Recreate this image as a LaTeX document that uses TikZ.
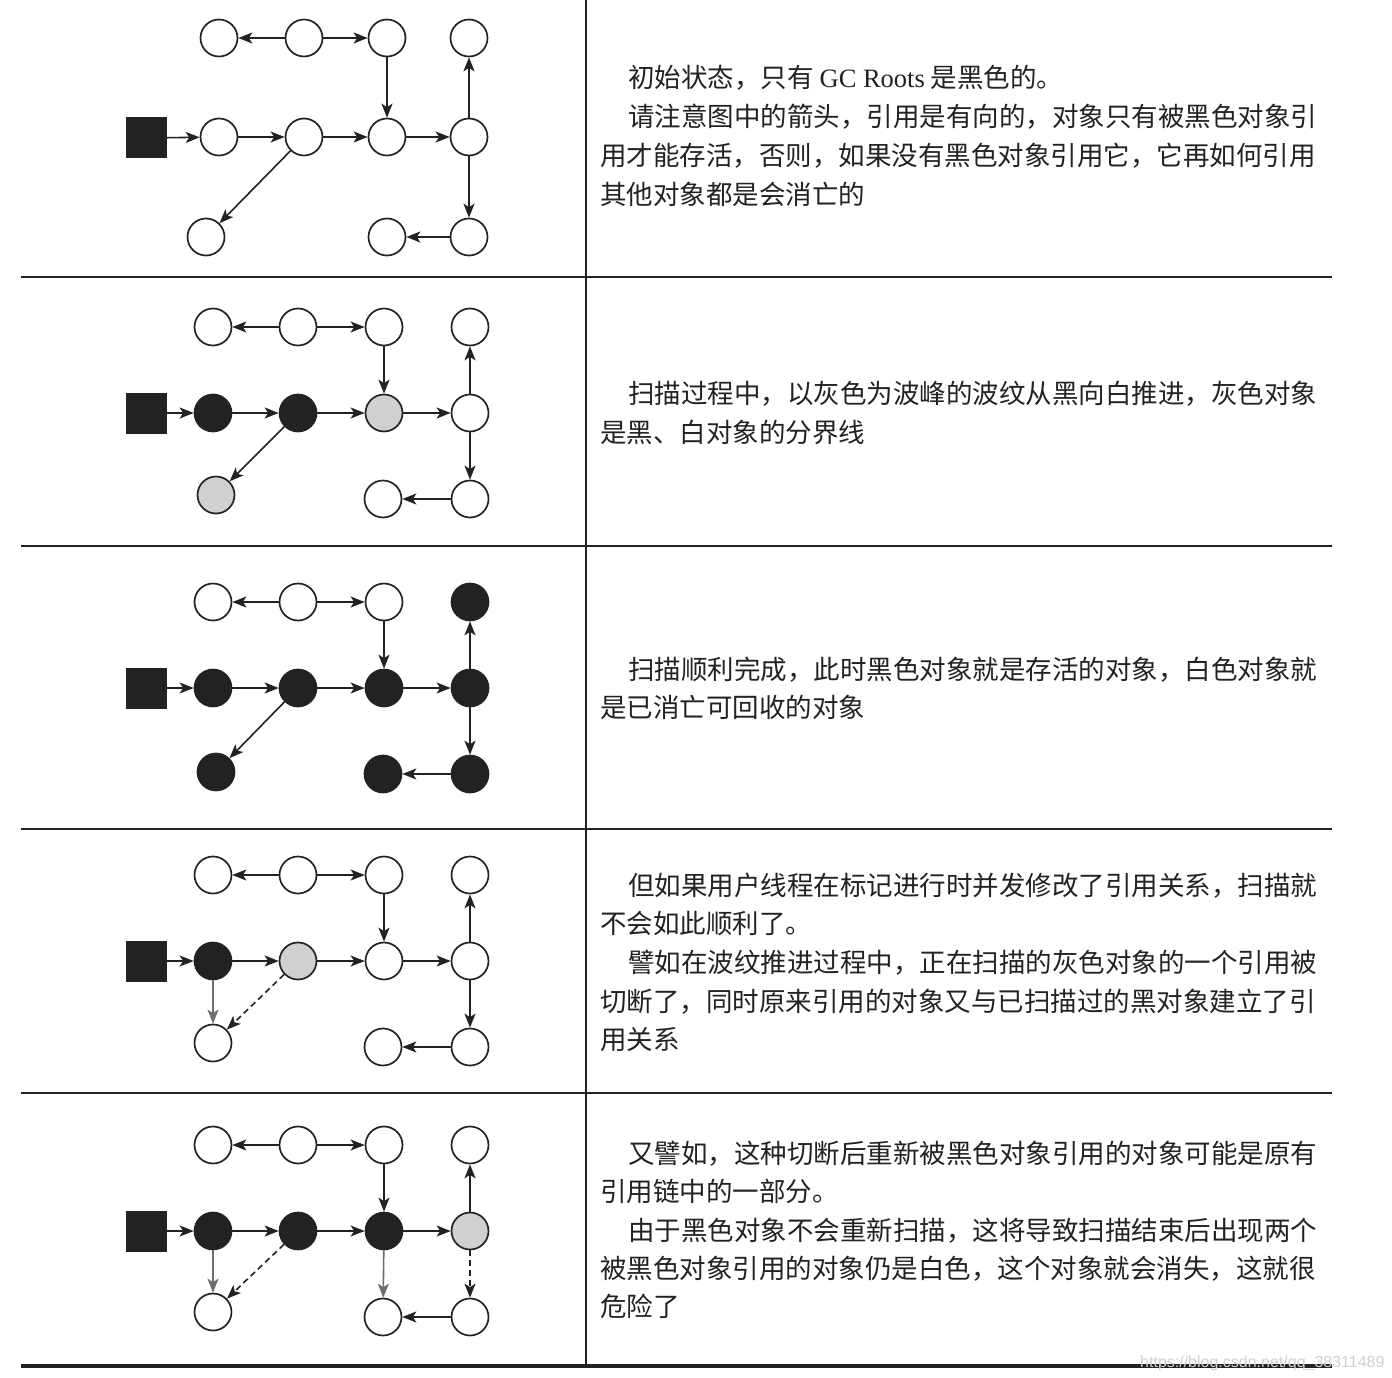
\documentclass[tikz,border=0pt]{standalone}
\usepackage{fontspec}
\usetikzlibrary{arrows.meta}
\newfontfamily\cjk{Noto Sans CJK SC}
\newfontfamily\latserif{Liberation Serif}
\newfontfamily\marksans{Liberation Sans}
\XeTeXlinebreaklocale "zh"
\XeTeXlinebreakskip=0pt plus 2pt

\definecolor{ink}{HTML}{222222}
\definecolor{greyobj}{HTML}{D0D0D0}
\definecolor{refgrey}{HTML}{6E6E6E}

\tikzset{
  obj/.style={circle,draw=ink,line width=1.7pt,minimum size=37pt,inner sep=0pt},
  wn/.style={obj,fill=white},
  bn/.style={obj,fill=ink},
  gn/.style={obj,fill=greyobj},
  root/.style={rectangle,fill=ink,minimum size=41pt,inner sep=0pt},
  ref/.style={draw=ink,line width=1.6pt,-{Stealth[length=14pt,width=11pt,inset=3.5pt]}},
  newref/.style={ref,draw=refgrey},
  cutref/.style={ref,dash pattern=on 6pt off 4pt},
  txt/.style={anchor=base west,inner sep=0pt,text=ink,font=\cjk\fontsize{26.5}{38}\selectfont},
  rule/.style={draw=ink,line width=2pt},
}

\begin{document}
\begin{tikzpicture}[x=1pt,y=-1pt]
\useasboundingbox[fill=white] (0,0) rectangle (1392,1378);

% table
\draw[rule] (586,0) -- (586,1366);
\foreach \y in {277,546,829,1093}
  \draw[rule] (21,\y) -- (1332,\y);
\draw[rule,line width=3.5pt] (21,1366) -- (1332,1366);

% panel a: initial state
\node[root] (a-r) at (146,138) {};
\foreach \n/\x in {1/219,2/304,3/387,4/469}{
  \node[wn] (a-t\n) at (\x,38) {};
  \node[wn] (a-m\n) at (\x,137) {};
}
\node[wn] (a-b1) at (206,237) {};
\node[wn] (a-b2) at (387,237) {};
\node[wn] (a-b3) at (469,237) {};

% panel b: scanning
\node[root] (b-r) at (146,413) {};
\foreach \n/\x/\s in {1/213/wn,2/298/wn,3/384/wn,4/470/wn}
  \node[\s] (b-t\n) at (\x,327) {};
\foreach \n/\x/\s in {1/213/bn,2/298/bn,3/384/gn,4/470/wn}
  \node[\s] (b-m\n) at (\x,413) {};
\node[gn] (b-b1) at (216,495) {};
\node[wn] (b-b2) at (383,499) {};
\node[wn] (b-b3) at (470,499) {};

% panel c: done
\node[root] (c-r) at (146,688) {};
\foreach \n/\x/\s in {1/213/wn,2/298/wn,3/384/wn,4/470/bn}
  \node[\s] (c-t\n) at (\x,602) {};
\foreach \n/\x in {1/213,2/298,3/384,4/470}
  \node[bn] (c-m\n) at (\x,688) {};
\node[bn] (c-b1) at (216,772) {};
\node[bn] (c-b2) at (383,774) {};
\node[bn] (c-b3) at (470,774) {};

% panel d: reference cut
\node[root] (d-r) at (146,961) {};
\foreach \n/\x in {1/213,2/298,3/384,4/470}
  \node[wn] (d-t\n) at (\x,875) {};
\foreach \n/\x/\s in {1/213/bn,2/298/gn,3/384/wn,4/470/wn}
  \node[\s] (d-m\n) at (\x,961) {};
\node[wn] (d-b1) at (213,1043) {};
\node[wn] (d-b2) at (383,1047) {};
\node[wn] (d-b3) at (470,1047) {};

% panel e: part of the chain
\node[root] (e-r) at (146,1231) {};
\foreach \n/\x in {1/213,2/298,3/384,4/470}
  \node[wn] (e-t\n) at (\x,1145) {};
\foreach \n/\x/\s in {1/213/bn,2/298/bn,3/384/bn,4/470/gn}
  \node[\s] (e-m\n) at (\x,1231) {};
\node[wn] (e-b1) at (213,1312) {};
\node[wn] (e-b2) at (383,1317) {};
\node[wn] (e-b3) at (470,1317) {};

% references
\foreach \p in {a,b,c,d,e}
  \foreach \s/\e in {t2/t1,t2/t3,t3/m3,m4/t4,r/m1,m1/m2,m2/m3,m3/m4,b3/b2}
    \draw[ref] (\p-\s) -- (\p-\e);
\foreach \p in {a,b,c}{
  \draw[ref] (\p-m2) -- (\p-b1);
  \draw[ref] (\p-m4) -- (\p-b3);
}
\draw[newref] (d-m1) -- (d-b1);
\draw[cutref] (d-m2) -- (d-b1);
\draw[ref] (d-m4) -- (d-b3);
\draw[newref] (e-m1) -- (e-b1);
\draw[cutref] (e-m2) -- (e-b1);
\draw[newref] (e-m3) -- (e-b2);
\draw[cutref] (e-m4) -- (e-b3);

% texts
\node[txt] (a-l1) at (628,88) {初始状态，只有 {\latserif GC Roots} 是黑色的。};
\node[txt] (a-l2) at (628,127) {\hbox to 690pt{请注意图中的箭头，引用是有向的，对象只有被黑色对象引}};
\node[txt] (a-l3) at (600,165) {\hbox to 718pt{用才能存活，否则，如果没有黑色对象引用它，它再如何引用}};
\node[txt] (a-l4) at (600,204) {其他对象都是会消亡的};

\node[txt] (b-l1) at (628,403) {\hbox to 690pt{扫描过程中，以灰色为波峰的波纹从黑向白推进，灰色对象}};
\node[txt] (b-l2) at (600,442) {是黑、白对象的分界线};

\node[txt] (c-l1) at (628,679) {\hbox to 690pt{扫描顺利完成，此时黑色对象就是存活的对象，白色对象就}};
\node[txt] (c-l2) at (600,717) {是已消亡可回收的对象};

\node[txt] (d-l1) at (628,895) {\hbox to 690pt{但如果用户线程在标记进行时并发修改了引用关系，扫描就}};
\node[txt] (d-l2) at (600,933) {不会如此顺利了。};
\node[txt] (d-l3) at (628,972) {\hbox to 690pt{譬如在波纹推进过程中，正在扫描的灰色对象的一个引用被}};
\node[txt] (d-l4) at (600,1011) {\hbox to 718pt{切断了，同时原来引用的对象又与已扫描过的黑对象建立了引}};
\node[txt] (d-l5) at (600,1049) {用关系};

\node[txt] (e-l1) at (628,1163) {\hbox to 690pt{又譬如，这种切断后重新被黑色对象引用的对象可能是原有}};
\node[txt] (e-l2) at (600,1201) {引用链中的一部分。};
\node[txt] (e-l3) at (628,1240) {\hbox to 690pt{由于黑色对象不会重新扫描，这将导致扫描结束后出现两个}};
\node[txt] (e-l4) at (600,1278) {\hbox to 718pt{被黑色对象引用的对象仍是白色，这个对象就会消失，这就很}};
\node[txt] (e-l5) at (600,1316) {危险了};

\node[anchor=base west,inner sep=0pt,text=black!18,font=\marksans\fontsize{16}{16}\selectfont] (mark) at (1140,1367) {https://blog.csdn.net/qq\_38311489};
\end{tikzpicture}
\end{document}
